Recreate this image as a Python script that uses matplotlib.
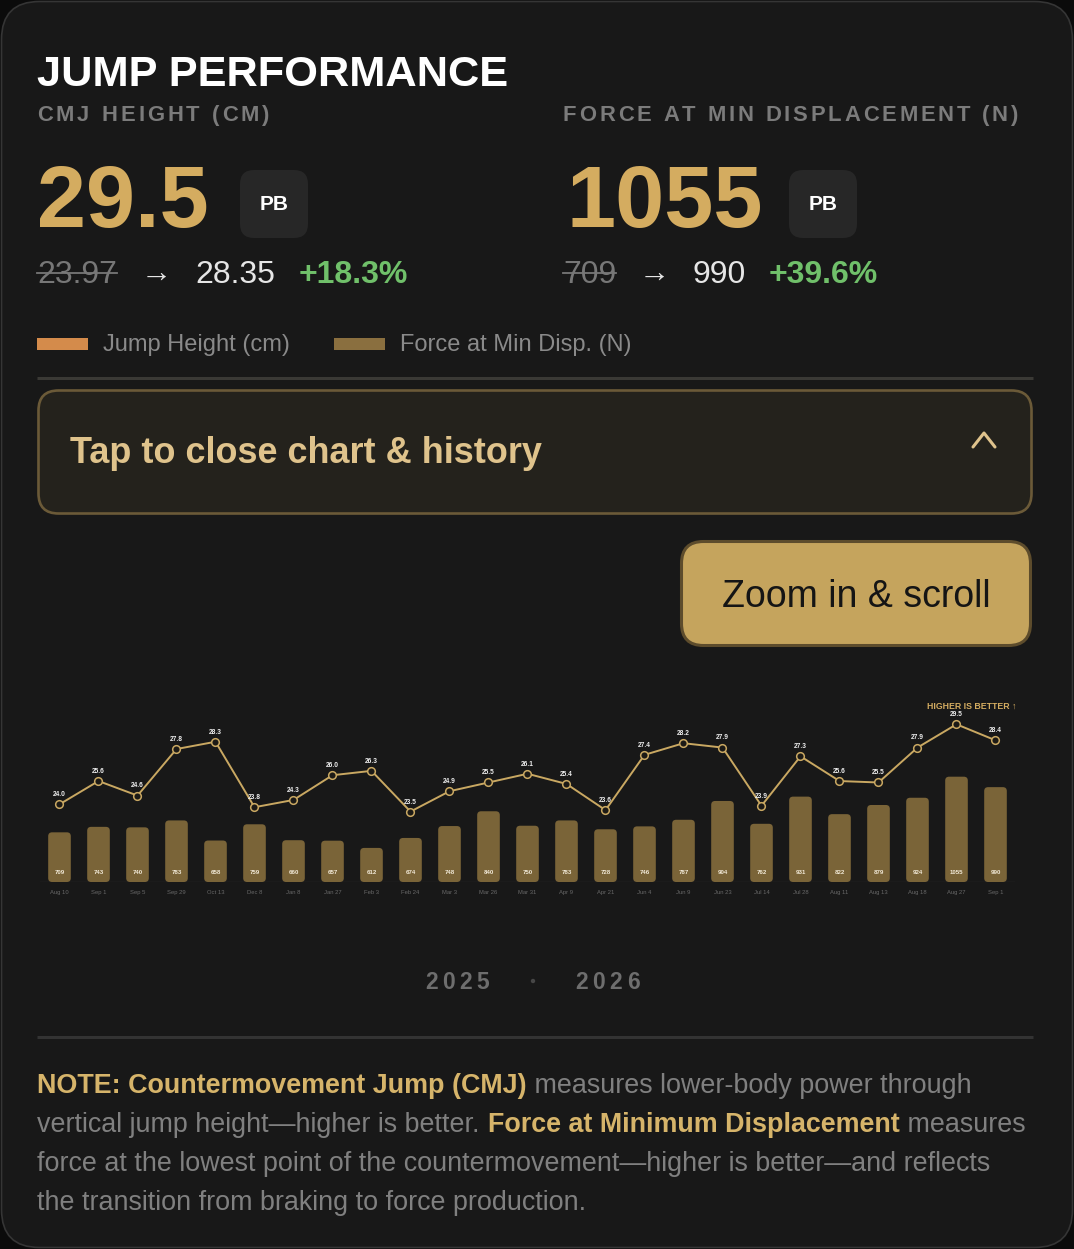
import matplotlib
matplotlib.use('Agg')
import matplotlib.pyplot as plt
from matplotlib.patches import FancyBboxPatch, Rectangle, Circle
from matplotlib.font_manager import FontProperties, findfont
from matplotlib.ft2font import FT2Font

# session data
dates = ['Aug 10', 'Sep 1', 'Sep 5', 'Sep 29', 'Oct 13', 'Dec 8', 'Jan 8', 'Jan 27',
         'Feb 3', 'Feb 24', 'Mar 3', 'Mar 26', 'Mar 31', 'Apr 9', 'Apr 21', 'Jun 4',
         'Jun 9', 'Jun 23', 'Jul 14', 'Jul 28', 'Aug 11', 'Aug 13', 'Aug 18', 'Aug 27', 'Sep 1']
jump_cm = [24.0, 25.6, 24.6, 27.8, 28.3, 23.8, 24.3, 26.0, 26.3, 23.5, 24.9, 25.5, 26.1,
           25.4, 23.6, 27.4, 28.2, 27.9, 23.9, 27.3, 25.6, 25.5, 27.9, 29.5, 28.4]
force_n = [709, 743, 740, 783, 658, 759, 660, 657, 612, 674, 748, 840, 750, 783, 728,
           746, 787, 904, 762, 931, 822, 879, 924, 1055, 990]
years = ['2025', '2026']

W, H = 1074, 1249
FAM = 'Liberation Sans'
BG = '#181818'
GOLD = '#d4ac60'
LINE = '#c9a862'
BAR = '#7a6438'
GREEN = '#70c06a'
GREY = '#7b7b7b'

fig = plt.figure(figsize=(W / 100, H / 100), dpi=100, facecolor='#0b0b0b')
bg = fig.add_axes([0, 0, 1, 1])
bg.set_xlim(0, W)
bg.set_ylim(H, 0)
bg.axis('off')

bg.add_patch(FancyBboxPatch((1.5, 1.5), W - 3, H - 3, boxstyle='round,pad=0,rounding_size=38',
                            fc=BG, ec='#353535', lw=1.2))


def advance(s, size, weight='normal'):
    font = FT2Font(findfont(FontProperties(family=FAM, weight=weight)))
    font.set_size(size, 100)
    return sum(font.load_char(ord(c)).linearHoriAdvance / 65536 for c in s)


def put(x, y, s, size, color, weight='normal', track=0):
    if not track:
        bg.text(x, y, s, fontsize=size, color=color, fontweight=weight, family=FAM,
                ha='left', va='baseline')
        return x + advance(s, size, weight)
    for c in s:
        bg.text(x, y, c, fontsize=size, color=color, fontweight=weight, family=FAM,
                ha='left', va='baseline')
        x += advance(c, size, weight) + track
    return x - track


# header
put(37, 86, 'JUMP PERFORMANCE', 31.2, 'white', 'bold')
put(37, 121, 'CMJ HEIGHT (CM)', 15.8, GREY, 'bold', track=3)
put(563, 121, 'FORCE AT MIN DISPLACEMENT (N)', 15.8, GREY, 'bold', track=2.85)

cols = [(37, '29.5', 240, ('23.97', '28.35', '+18.3%'), (141, 195, 299)),
        (566, '1055', 789, ('709', '990', '+39.6%'), (639, 693, 769))]
for x0, big, bx, (old, new, pct), (ax_, nx, px) in cols:
    put(x0, 227, big, 63.5, GOLD, 'bold')
    bg.add_patch(FancyBboxPatch((bx, 170), 68, 68, boxstyle='round,pad=0,rounding_size=14',
                                fc='#272727', ec='none'))
    bg.text(bx + 34, 204, 'PB', fontsize=15, color='white', fontweight='bold', family=FAM,
            ha='center', va='center')
    ox = x0 - 3 if x0 > 500 else x0
    end = put(ox, 283, old, 23, '#777777')
    bg.plot([ox, end], [272.5, 272.5], color='#777777', lw=1.3)
    put(ax_, 283, '\u2192', 22.5, '#e6e6e6')
    put(nx, 283, new, 23, '#e6e6e6')
    put(px, 283, pct, 23, GREEN, 'bold')

# legend
bg.add_patch(Rectangle((37, 338), 51, 12, fc='#d48b4b', ec='none'))
put(103, 351, 'Jump Height (cm)', 17, '#8a8a8a')
bg.add_patch(Rectangle((334, 338), 51, 12, fc='#8a6f3f', ec='none'))
put(400, 351, 'Force at Min Disp. (N)', 17, '#8a8a8a')
bg.plot([37, 1033], [378, 378], color='#3a3935', lw=2.2, solid_capstyle='butt')

# collapse bar
bg.add_patch(FancyBboxPatch((38.5, 390.5), 993, 123, boxstyle='round,pad=0,rounding_size=20',
                            fc='#24221c', ec='#6b5a38', lw=1.9))
put(70, 463, 'Tap to close chart & history', 25.9, '#dfc38c', 'bold')
bg.plot([973, 984, 995], [447, 433, 447], color='#dfc38c', lw=2.2, solid_capstyle='round')

# zoom button
bg.add_patch(FancyBboxPatch((681.5, 541.5), 349, 104, boxstyle='round,pad=0,rounding_size=22',
                            fc='#c5a45d', ec='#5d4c2c', lw=2.2))
bg.text(856, 607, 'Zoom in & scroll', fontsize=27, color='#151515', family=FAM,
        ha='center', va='baseline')

# chart
ax = fig.add_axes([40 / W, (H - 882) / H, 975 / W, 182 / H])
ax.set_xlim(-0.5, 24.5)
ax.set_ylim(400, 1532)
ax.axis('off')
x = list(range(len(dates)))
ax.axhline(400, color='#2c2c2c', lw=1, zorder=0)
bars = ax.bar(x, [v - 400 for v in force_n], bottom=400, width=0.58, color=BAR)
aspect = (1132 / 182) / (25 / 975)
for b in bars:
    b.set_visible(False)
    ax.add_patch(FancyBboxPatch((b.get_x(), b.get_y()), b.get_width(), b.get_height(),
                                boxstyle='round,pad=0,rounding_size=0.1', mutation_aspect=aspect,
                                fc=BAR, ec='none', zorder=1))
for i, v in enumerate(force_n):
    ax.annotate(str(v), (i, 400), xytext=(0, 6.7), textcoords='offset points', ha='center',
                va='center', fontsize=4.4, color='#f2ead8', fontweight='bold', family=FAM,
                annotation_clip=False)
    ax.annotate(dates[i], (i, 400), xytext=(0, -7.3), textcoords='offset points', ha='center',
                va='center', fontsize=4.2, color='#686868', family=FAM, annotation_clip=False)

ax2 = ax.twinx()
ax2.set_ylim(18.66, 31.17)
ax2.axis('off')
ax2.plot(x, jump_cm, color=LINE, lw=1.4, marker='o', ms=5.5, mfc='#1c1a16', mec=LINE,
         mew=1.1, zorder=3)
for i, v in enumerate(jump_cm):
    ax2.annotate(f'{v:.1f}', (i, v), xytext=(0, 6.9), textcoords='offset points', ha='center',
                 va='center', fontsize=4.8, color='#eeeeee', fontweight='bold', family=FAM,
                 annotation_clip=False)

bg.text(1016, 706, 'HIGHER IS BETTER \u2191', fontsize=6.3, color=GOLD, fontweight='bold',
        family=FAM, ha='right', va='center')

# years
put(425, 989, years[0], 16.5, '#6e6e6e', 'bold', track=4.5)
bg.add_patch(Circle((533, 981), 2.2, fc='#464646', ec='none'))
put(575, 989, years[1], 16.5, '#6e6e6e', 'bold', track=4.5)
bg.plot([37, 1033], [1037, 1037], color='#333333', lw=2.2, solid_capstyle='butt')

# note
NGOLD = '#d6b46a'
NGREY = '#808080'
note = [
    [('NOTE: Countermovement Jump (CMJ)', NGOLD, 'bold'),
     (' measures lower-body power through', NGREY, 'normal')],
    [('vertical jump height\u2014higher is better. ', NGREY, 'normal'),
     ('Force at Minimum Displacement', NGOLD, 'bold'), (' measures', NGREY, 'normal')],
    [('force at the lowest point of the countermovement\u2014higher is better\u2014and reflects',
      NGREY, 'normal')],
    [('the transition from braking to force production.', NGREY, 'normal')],
]
for k, line in enumerate(note):
    xx = 37
    for s, c, w in line:
        xx = put(xx, 1093 + 39 * k, s, 19.4, c, w)

fig.savefig('out.png', dpi=100, facecolor=fig.get_facecolor())
